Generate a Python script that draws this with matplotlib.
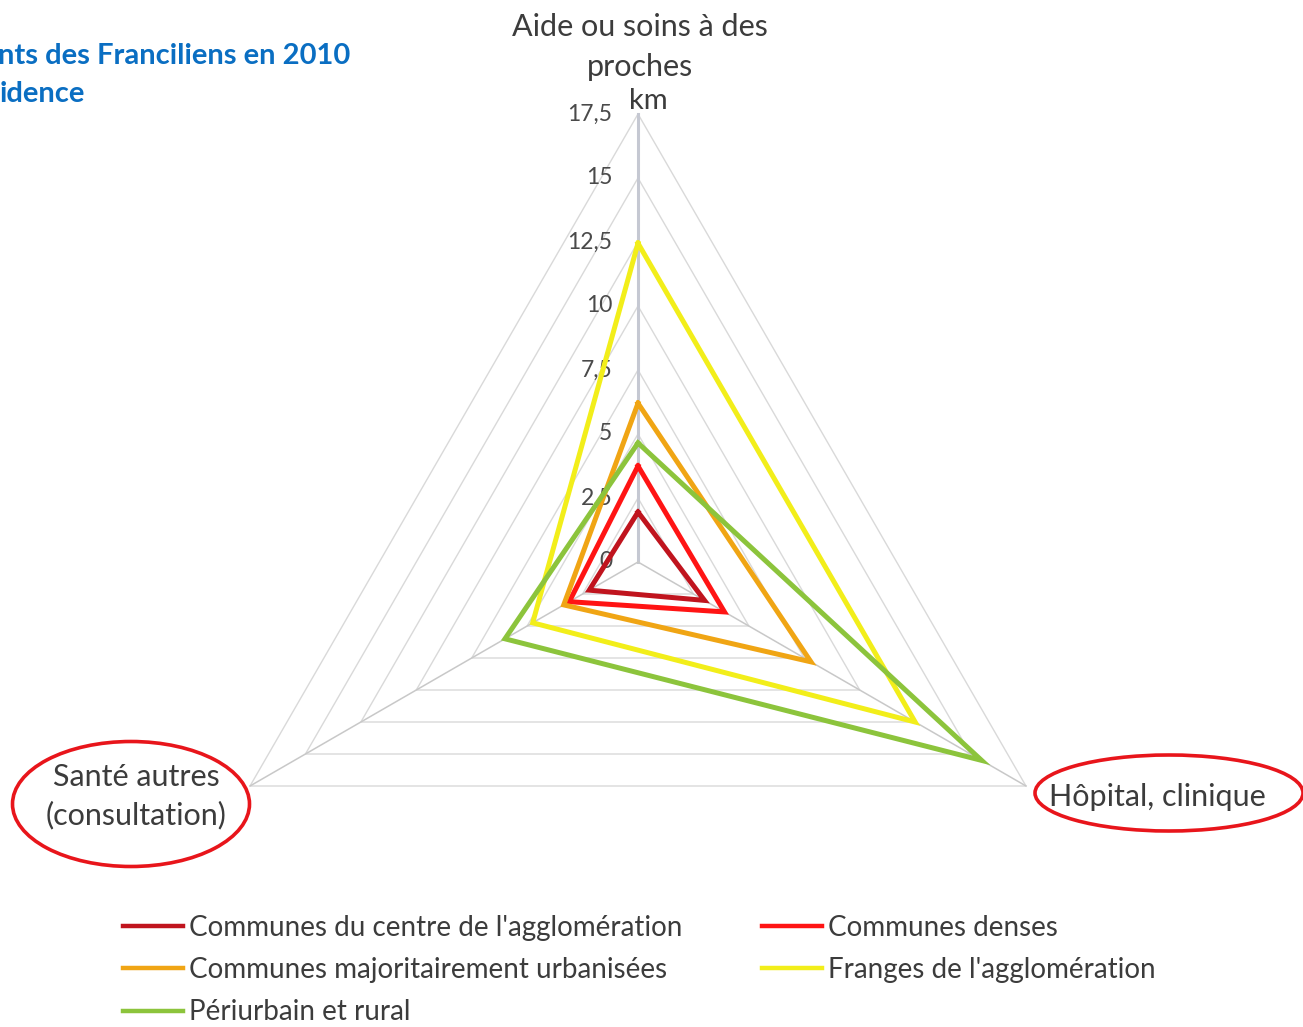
import numpy as np
import matplotlib.pyplot as plt
from matplotlib.patches import Ellipse
from matplotlib.lines import Line2D

# --- data ---
axes_labels = ["Aide ou soins à des\nproches", "Hôpital, clinique", "Santé autres\n(consultation)"]
angles_deg = [90, -30, 210]
ticks = [0, 2.5, 5, 7.5, 10, 12.5, 15, 17.5]
tick_labels = ["0", "2,5", "5", "7,5", "10", "12,5", "15", "17,5"]

series_names = ["Communes du centre de l'agglomération", "Communes denses",
                "Communes majoritairement urbanisées", "Franges de l'agglomération",
                "Périurbain et rural"]
centre = [1.95, 3.0, 2.2]
denses = [3.75, 3.9, 3.1]
urbanisees = [6.2, 7.8, 3.35]
franges = [12.45, 12.5, 4.75]
periurbain = [4.65, 15.5, 6.0]
series_values = [centre, denses, urbanisees, franges, periurbain]
colors = ['#C0141E', '#FF1414', '#F0A514', '#F2EE1A', '#8CC43C']

# --- layout: pixel helpers (center of radar at 638,562 px, 25.6 px per km) ---
W, H = 1303, 1027
CX, CY, S = 638, 562, 25.6


def px(x, y):
    return (x - CX) / S, (CY - y) / S


def to_xy(vals):
    th = np.radians(angles_deg)
    v = np.asarray(vals, dtype=float)
    x = v * np.cos(th)
    y = v * np.sin(th)
    return np.append(x, x[0]), np.append(y, y[0])


fig = plt.figure(figsize=(W / 100, H / 100), dpi=100)
ax = fig.add_axes([0, 0, 1, 1])
x0, y1 = px(0, 0)
x1, y0 = px(W, H)
ax.set_xlim(x0, x1)
ax.set_ylim(y0, y1)
ax.axis('off')

txt = '#3C3C3C'
font = 'Lato'

# grid triangles
for t in ticks[1:]:
    gx, gy = to_xy([t, t, t])
    ax.plot(gx, gy, color='#D9D9D9', lw=1, zorder=1)

# spokes
th = np.radians(angles_deg)
for i, a in enumerate(th):
    ax.plot([0, 17.5 * np.cos(a)], [0, 17.5 * np.sin(a)],
            color='#C5C8D2' if i == 0 else '#C8C8C8', lw=2.2 if i == 0 else 1.1, zorder=1)

# tick labels along the top axis
for t, lab in zip(ticks, tick_labels):
    ax.text(-1.0, t, lab, ha='right', va='center', fontsize=16.5, color='#4A4A4A', family=font, zorder=2)
ax.text(*px(648, 101), "km", ha='center', va='center', fontsize=21, color=txt, family=font)

# series
for vals, c in zip(series_values, colors):
    sx, sy = to_xy(vals)
    ax.plot(sx, sy, color=c, lw=3.6, solid_joinstyle='miter', zorder=3)

# category labels
ax.text(*px(640, 47), axes_labels[0], ha='center', va='center', fontsize=22, color=txt,
        family=font, linespacing=1.5)
ax.text(*px(1157, 797), axes_labels[1], ha='center', va='center', fontsize=22, color=txt, family=font)
ax.text(*px(136, 796), axes_labels[2], ha='center', va='center', fontsize=22, color=txt,
        family=font, linespacing=1.4)

# red ellipses around two labels
ax.add_patch(Ellipse(px(131, 804), 237 / S, 125 / S, fill=False, ec='#E8151B', lw=2.6, zorder=4))
ax.add_patch(Ellipse(px(1169, 793), 268 / S, 76 / S, fill=False, ec='#E8151B', lw=2.6, zorder=4))

# title (cropped in the source)
fig.text(-2 / W, 1 - 56 / H, "nts des Franciliens en 2010", ha='left', va='center', fontsize=21,
         color='#0A6EC2', fontweight='bold', family=font)
fig.text(0, 1 - 94 / H, "idence", ha='left', va='center', fontsize=21,
         color='#0A6EC2', fontweight='bold', family=font)

# legend (row-wise order in 2 columns)
order = [0, 2, 4, 1, 3]
handles = [Line2D([], [], color=colors[i], lw=3.2) for i in order]
labels = [series_names[i] for i in order]
leg = fig.legend(handles, labels, loc='upper left', bbox_to_anchor=(98 / W, 1 - 890 / H), ncol=2,
                 frameon=False, handlelength=2.16, handletextpad=0.22, columnspacing=2.85,
                 labelspacing=0.58, prop={'family': font, 'size': 20})
for t in leg.get_texts():
    t.set_color(txt)

fig.savefig("out.png", dpi=100)
